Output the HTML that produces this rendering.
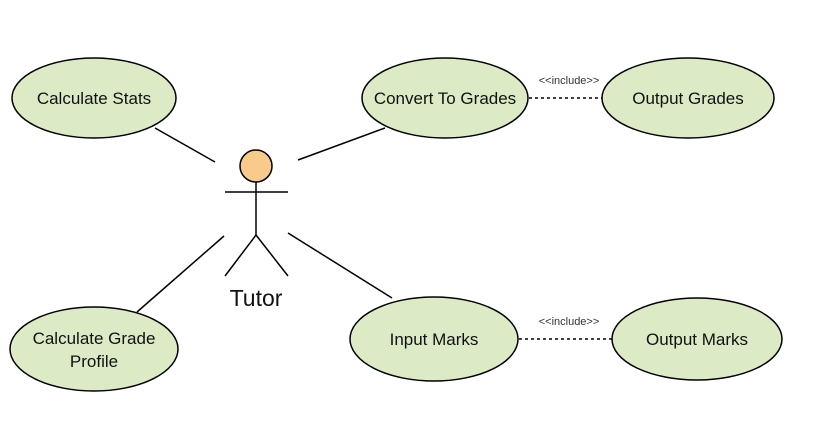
<!DOCTYPE html>
<html><head><style>html,body{margin:0;padding:0;background:#fff;}</style></head>
<body>
<svg width="835" height="439" xmlns="http://www.w3.org/2000/svg" font-family="Liberation Sans, Arial, sans-serif">
<g stroke="#000" stroke-width="1.5" fill="none">
<line x1="155" y1="128" x2="215" y2="162"/>
<line x1="298" y1="160" x2="385" y2="128"/>
<line x1="224" y1="236" x2="137" y2="312"/>
<line x1="288" y1="233" x2="392" y2="298"/>
<line x1="529" y1="98" x2="602" y2="98" stroke-dasharray="3,3"/>
<line x1="519" y1="339" x2="612" y2="339" stroke-dasharray="3,3"/>
</g>
<g fill="#dcebc6" stroke="#000" stroke-width="1.5">
<ellipse cx="94" cy="98" rx="82" ry="40"/>
<ellipse cx="445" cy="98" rx="83" ry="40"/>
<ellipse cx="688" cy="98" rx="86" ry="40"/>
<ellipse cx="94" cy="349" rx="84" ry="42"/>
<ellipse cx="434" cy="339" rx="84" ry="42"/>
<ellipse cx="697" cy="339" rx="85" ry="41"/>
</g>
<g stroke="#000" stroke-width="1.5" fill="none">
<line x1="256" y1="182" x2="256" y2="235"/>
<line x1="225" y1="192" x2="288" y2="192"/>
<line x1="256" y1="235" x2="225" y2="276"/>
<line x1="256" y1="235" x2="288" y2="276"/>
</g>
<circle cx="256" cy="166" r="16" fill="#f8cb8b" stroke="#000" stroke-width="1.5"/>
<g font-size="17" fill="#111" text-anchor="middle">
<text x="94" y="104">Calculate Stats</text>
<text x="445" y="104">Convert To Grades</text>
<text x="688" y="104">Output Grades</text>
<text x="94" y="344">Calculate Grade</text>
<text x="94" y="367">Profile</text>
<text x="434" y="345">Input Marks</text>
<text x="697" y="345">Output Marks</text>
<text x="256" y="306" font-size="23">Tutor</text>
<text x="569" y="84" font-size="11" fill="#333">&lt;&lt;include&gt;&gt;</text>
<text x="569" y="325" font-size="11" fill="#333">&lt;&lt;include&gt;&gt;</text>
</g>
</svg>
</body></html>
